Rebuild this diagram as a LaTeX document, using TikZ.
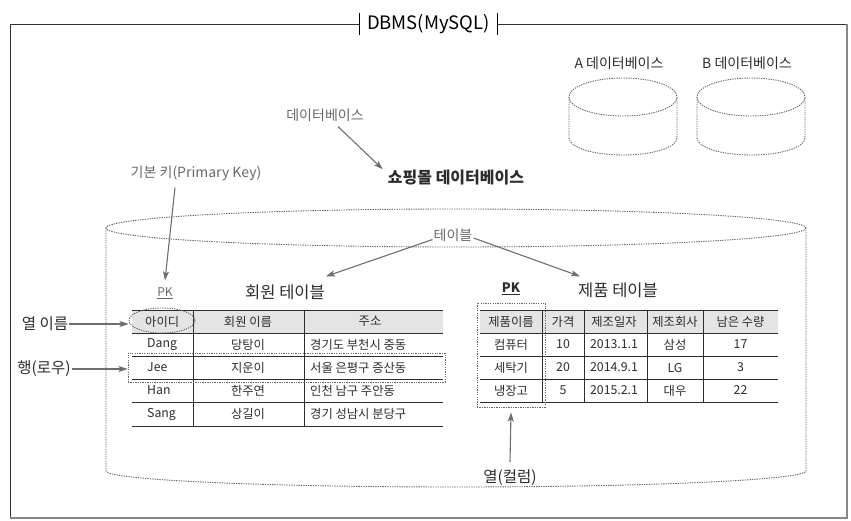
\documentclass[tikz,border=0pt]{standalone}
\usepackage{fontspec}
\setmainfont{Noto Sans CJK KR}
\usepackage{xcolor}
\usetikzlibrary{arrows.meta,positioning,shapes.geometric}
\definecolor{cline}{RGB}{45,45,45}
\definecolor{ctext}{RGB}{45,45,45}
\definecolor{cnote}{RGB}{105,105,105}
\definecolor{carrow}{RGB}{110,110,110}
\definecolor{cdot}{RGB}{100,100,100}
\definecolor{chead}{RGB}{228,228,228}
\definecolor{cshadow}{RGB}{135,135,135}

\begin{document}
\begin{tikzpicture}[
  x=1pt, y=-1pt,
  font=\fontsize{12}{14}\selectfont,
  lbl/.style={inner sep=1pt, text=ctext},
  note/.style={inner sep=1pt, text=cnote, font=\fontsize{14}{16}\selectfont},
  big/.style={inner sep=1pt, text=ctext, font=\fontsize{16.5}{19}\selectfont},
  cell/.style={inner sep=0pt, text=ctext, font=\fontsize{12.3}{14}\selectfont},
  ar/.style={-{Stealth[length=9pt,width=6pt,inset=2pt]}, carrow, line width=1.1pt},
  dots/.style={draw=cdot, dash pattern=on 1.3pt off 1.1pt, line width=0.9pt},
  rule/.style={cline, line width=0.8pt},
]
\fill[white] (0,0) rectangle (851,521);
\useasboundingbox (0,0) rectangle (851,521);

% ---- outer DBMS frame ----
\draw[black!80, line width=0.8pt] (10,518) -- (10,24) -- (847,24);
\draw[cshadow, line width=2.2pt] (847,24) -- (847,518) -- (10,518);
\node[fill=white, minimum width=137pt, minimum height=22pt, inner sep=0pt,
  font=\fontsize{18.5}{21}\selectfont] (dbms) at (428.5,24) {DBMS(MySQL)};
\draw[black, line width=1.2pt] (dbms.north west) -- (dbms.south west);
\draw[black, line width=1.2pt] (dbms.north east) -- (dbms.south east);

% ---- databases A and B ----
\foreach \cx/\nm in {623/A,751/B}{
  \draw[dots] (\cx,97) ellipse [x radius=54, y radius=19];
  \draw[dots] (\cx-54,97) -- (\cx-54,138)
    arc[start angle=180, end angle=0, x radius=54, y radius=17] -- (\cx+54,97);
  \node[note, text=ctext] (db\nm) at (\cx-4,63) {\nm{} 데이터베이스};
}

% ---- shopping mall database ----
\node[note] (dblbl) at (325,115) {데이터베이스};
\node[lbl, font=\bfseries\fontsize{16}{18}\selectfont] (shop) at (456,178) {쇼핑몰 데이터베이스};
\draw[ar] ([xshift=13pt,yshift=-4pt]dblbl.south) -- ([xshift=-4pt]shop.north west);

\draw[dots] (456,228) ellipse [x radius=350, y radius=19];
\draw[dots] (106,228) -- (106,471)
  arc[start angle=180, end angle=0, x radius=350, y radius=16] -- (806,228);

\node[note] (pkey) at (196,173) {기본 키(Primary Key)};
\node[note, font=\fontsize{12}{14}\selectfont] (pkm) at (165,293) {\underline{PK}};
\draw[ar] ([xshift=-21pt,yshift=-6pt]pkey.south) -- ([yshift=6pt]pkm.north);

\node[note] (tbl) at (453,235) {테이블};
\node[big] (mtitle) at (285,292) {회원 테이블};
\node[big] (ptitle) at (618,290) {제품 테이블};
\node[lbl, font=\bfseries\fontsize{13}{15}\selectfont] (pkp) at (511,289) {\underline{PK}};
\draw[ar] ([yshift=3pt]tbl.south west) -- ([yshift=7pt]mtitle.north east);
\draw[ar] ([yshift=-3pt]tbl.east) -- ([xshift=3pt,yshift=5pt]ptitle.north west);

% ---- member table ----
\fill[chead] (132,310) rectangle (443,333);
\foreach \y in {310,333,356,379,402,426} \draw[rule] (132,\y) -- (443,\y);
\foreach \x in {193,304} \draw[rule] (\x,310) -- (\x,426);
\node[dots, ellipse, minimum width=66pt, minimum height=25pt, inner sep=0pt] (idring) at (162,320.5) {};
\node[cell, anchor=west] (m-h1) at (145,321.5) {아이디};
\node[cell] (m-h2) at (248,321.5) {회원 이름};
\node[cell] (m-h3) at (370,321.5) {주소};
\foreach \y/\a/\b/\c [count=\i] in {344.5/Dang/당탕이/경기도 부천시 중동,
    367.5/Jee/지운이/서울 은평구 증산동, 390.5/Han/한주연/인천 남구 주안동,
    414/Sang/상길이/경기 성남시 분당구}{
  \node[cell, anchor=west] (m-\i-1) at (147,\y) {\a};
  \node[cell] (m-\i-2) at (248,\y) {\b};
  \node[cell, anchor=west] (m-\i-3) at (310,\y) {\c};
}
\node[dots, minimum width=317pt, minimum height=29pt, inner sep=0pt] (rowbox) at (286.5,367.5) {};

\node[big, font=\fontsize{15.5}{18}\selectfont] (colname) at (45,324) {열 이름};
\node[big, font=\fontsize{15.5}{18}\selectfont] (rowlbl) at (44,369) {행(로우)};
\draw[ar] (colname.east) -- (colname.east -| idring.west);
\draw[ar] (rowlbl.east) -- (rowlbl.east -| rowbox.west);

% ---- product table ----
\fill[chead] (480,310) rectangle (778,333);
\foreach \y in {310,333,356,379,402} \draw[rule] (480,\y) -- (778,\y);
\foreach \x in {542,584,647,703} \draw[rule] (\x,310) -- (\x,402);
\foreach \y/\a/\b/\c/\d/\e [count=\i] in {321.5/제품이름/가격/제조일자/제조회사/남은 수량,
    344.5/컴퓨터/10/2013.1.1/삼성/17, 367.5/세탁기/20/2014.9.1/LG/3,
    390.5/냉장고/5/2015.2.1/대우/22}{
  \node[cell] (p-\i-1) at (511,\y) {\a};
  \node[cell] (p-\i-2) at (563,\y) {\b};
  \node[cell] (p-\i-3) at (614,\y) {\c};
  \node[cell] (p-\i-4) at (675,\y) {\d};
  \node[cell] (p-\i-5) at (740.5,\y) {\e};
}
\node[dots, minimum width=68pt, minimum height=104pt, inner sep=0pt] (pkcol) at (511,355) {};

\node[big, font=\fontsize{15.5}{18}\selectfont] (colcol) at (510,478) {열(컬럼)};
\draw[ar] ([yshift=7pt]colcol.north) -- ([yshift=-5pt]pkcol.south);
\end{tikzpicture}
\end{document}
